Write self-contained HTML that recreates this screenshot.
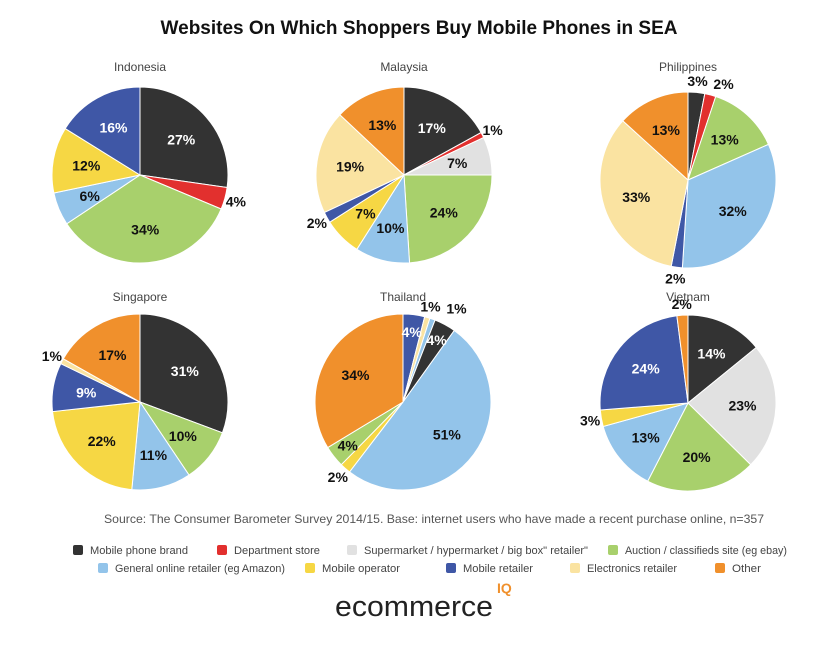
<!DOCTYPE html>
<html><head><meta charset="utf-8"><style>
body{margin:0;background:#fff;font-family:"Liberation Sans",sans-serif}
#wrap{position:relative;width:839px;height:648px;overflow:hidden}
</style></head><body>
<div id="wrap">
<svg id="svg" width="839" height="648" xmlns="http://www.w3.org/2000/svg">
<text x="419" y="34" text-anchor="middle" font-size="19" font-weight="bold" fill="#111">Websites On Which Shoppers Buy Mobile Phones in SEA</text>
<text x="434" y="523" text-anchor="middle" font-size="12" fill="#555" textLength="660" lengthAdjust="spacingAndGlyphs">Source: The Consumer Barometer Survey 2014/15. Base: internet users who have made a recent purchase online, n=357</text>
<g>
<text x="335" y="616" font-size="29" fill="#222" textLength="158" lengthAdjust="spacingAndGlyphs">ecommerce</text>
<text x="497" y="593" font-size="14" font-weight="bold" fill="#f0902c">IQ</text>
</g>
</svg>
</div>
<script>
const categories=["Mobile phone brand","Department store","Supermarket / hypermarket / big box\" retailer\"","Auction / classifieds site (eg ebay)","General online retailer (eg Amazon)","Mobile operator","Mobile retailer","Electronics retailer","Other"];
const colors=["#333333","#e2302e","#e1e1e1","#a8d06c","#93c4ea","#f6d744","#3f57a6","#fae3a1","#f0902c"];
const countries=["Indonesia","Malaysia","Philippines","Singapore","Thailand","Vietnam"];
// slice category index sequences (clockwise from 12 o'clock) and values
const idxIndonesia=[0,1,3,4,5,6];      const valIndonesia=[27,4,34,6,12,16];
const idxMalaysia=[0,1,2,3,4,5,6,7,8]; const valMalaysia=[17,1,7,24,10,7,2,19,13];
const idxPhilippines=[0,1,3,4,6,7,8];  const valPhilippines=[3,2,13,32,2,33,13];
const idxSingapore=[0,3,4,5,6,7,8];    const valSingapore=[31,10,11,22,9,1,17];
const idxThailand=[6,7,4,0,4,5,3,8];   const valThailand=[4,1,1,4,51,2,4,34];
const idxVietnam=[0,2,3,4,5,6,8];      const valVietnam=[14,23,20,13,3,24,2];
const idxs=[idxIndonesia,idxMalaysia,idxPhilippines,idxSingapore,idxThailand,idxVietnam];
const vals=[valIndonesia,valMalaysia,valPhilippines,valSingapore,valThailand,valVietnam];
const centers=[[140,175],[404,175],[688,180],[140,402],[403,402],[688,403]];
const R=88;
const NS="http://www.w3.org/2000/svg";
const svg=document.getElementById('svg');
function pt(cx,cy,r,a){return [cx+r*Math.sin(a),cy-r*Math.cos(a)];}
countries.forEach((c,p)=>{
  const [cx,cy]=centers[p];
  const g=document.createElementNS(NS,'g');
  
  
  svg.appendChild(g);
  const t=document.createElementNS(NS,'text');
  
  
  t.setAttribute('x',cx);t.setAttribute('y',p<3?71:301);
  t.setAttribute('text-anchor','middle');t.setAttribute('font-size','12');t.setAttribute('fill','#444');
  t.textContent=c;g.appendChild(t);
  const v=vals[p],ix=idxs[p];const tot=v.reduce((a,b)=>a+b,0);
  let a0=0;let lastOut=-99;
  const labels=[];
  v.forEach((val,i)=>{
    const a1=a0+val/tot*2*Math.PI;
    const [x0,y0]=pt(cx,cy,R,a0),[x1,y1]=pt(cx,cy,R,a1);
    const path=document.createElementNS(NS,'path');
    
    
    path.setAttribute('d',`M${cx},${cy}L${x0},${y0}A${R},${R} 0 ${a1-a0>Math.PI?1:0} 1 ${x1},${y1}Z`);
    path.setAttribute('fill',colors[ix[i]]);path.setAttribute('stroke','#fff');path.setAttribute('stroke-width','1');
    g.appendChild(path);
    const out=val<=3||ix[i]===1;
    let am=(a0+a1)/2;
    const rr=out?R*1.13:(val<=5?R*0.8:R*0.62);
    let [lx,ly]=pt(cx,cy,rr,am);
    if(out){ if(Math.abs(lx-lastOut)<24){lx=lastOut+26;} lastOut=lx; }
    labels.push([lx,ly,val,out,ix[i]]);
    a0=a1;
  });
  labels.forEach((L,i)=>{
    const [lx,ly,val,out,ci]=L;
    const lb=document.createElementNS(NS,'text');
    
    
    lb.setAttribute('x',lx);lb.setAttribute('y',ly+5);lb.setAttribute('text-anchor','middle');
    lb.setAttribute('font-size','14');lb.setAttribute('font-weight','bold');
    lb.setAttribute('fill',(!out&&(ci===0||ci===6))?'#fff':'#111');
    lb.textContent=val+'%';g.appendChild(lb);
  });
});
const legPos=[[73,550,98],[217,550,86],[347,550,224],[608,550,162],[98,568,170],[305,568,78],[446,568,70],[570,568,90],[715,568,29]];
legPos.forEach((P,i)=>{
  const [x,y,w]=P;
  const g=document.createElementNS(NS,'g');
  
  
  const s=document.createElementNS(NS,'rect');
  s.setAttribute('x',x);s.setAttribute('y',y-5);s.setAttribute('width',10);s.setAttribute('height',10);s.setAttribute('rx',2);
  s.setAttribute('fill',colors[i]);g.appendChild(s);
  const t=document.createElementNS(NS,'text');
  t.setAttribute('x',x+17);t.setAttribute('y',y+4);t.setAttribute('font-size','11');t.setAttribute('fill','#444');
  t.setAttribute('textLength',w);t.setAttribute('lengthAdjust','spacingAndGlyphs');
  t.textContent=categories[i];g.appendChild(t);
  svg.appendChild(g);
});
</script>
</body></html>
